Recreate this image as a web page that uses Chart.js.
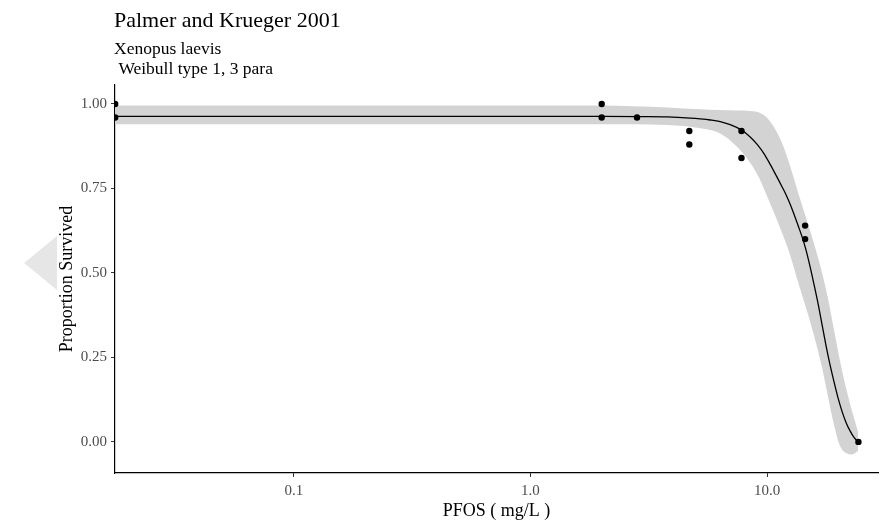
<!DOCTYPE html>
<html>
<head>
<meta charset="utf-8">
<script src="https://cdn.jsdelivr.net/npm/chart.js@4/dist/chart.umd.min.js"></script>
<style>
  html, body { margin: 0; padding: 0; background: #ffffff; }
  #wrap { width: 885px; height: 520px; position: relative; }
</style>
</head>
<body>
<div id="wrap"><canvas id="c" width="885" height="520"></canvas></div>
<script>
// Observed survival per PFOS concentration (control plotted at the left limit)
const obsConc = [0.0176, 0.0176, 2.0, 2.0, 2.82, 4.69, 4.69, 7.79, 7.79, 14.47, 14.47, 24.3];
const obsSurv = [1.00, 0.96, 1.00, 0.96, 0.96, 0.92, 0.88, 0.92, 0.84, 0.64, 0.60, 0.00];

// Fitted Weibull (type 1, 3 parameter) curve
const fitConc = [0.01757, 1.974, 2.911, 3.785, 4.733, 5.215, 5.747, 6.335, 6.981, 7.767, 8.479, 9.075, 9.712,
                 10.30, 10.91, 11.57, 12.03, 12.50, 13.00, 13.51, 14.05, 14.61, 15.19, 15.79, 16.42, 17.07,
                 17.74, 18.44, 19.17, 19.93, 20.72, 21.54, 22.40, 23.28, 24.21];
const fitSurv = [0.9630, 0.9630, 0.9624, 0.9615, 0.9580, 0.9556, 0.9524, 0.9476, 0.9385, 0.9231, 0.9024, 0.8802, 0.8521,
                 0.8210, 0.7885, 0.7544, 0.7308, 0.7041, 0.6731, 0.6405, 0.6065, 0.5666, 0.5178, 0.4645, 0.4083, 0.3462,
                 0.2840, 0.2278, 0.1775, 0.1302, 0.0902, 0.0577, 0.0325, 0.0133, 0.0];

// Confidence band around the fit
const bandConc  = [0.01757, 1.974, 3.785, 5.215, 6.335, 7.399, 8.315, 9.162, 9.903, 10.70, 11.57,
                   12.50, 13.51, 14.61, 15.79, 17.07, 18.09, 19.17, 20.32, 21.54, 22.84, 24.21];
const bandUpper = [0.9956, 0.9956, 0.9896, 0.9843, 0.9820, 0.9805, 0.9799, 0.9751, 0.9615, 0.9311, 0.8837,
                   0.8166, 0.7382, 0.6627, 0.5858, 0.5000, 0.4231, 0.3314, 0.2396, 0.1598, 0.0917, 0.0296];
const bandLower = [0.9399, 0.9399, 0.9379, 0.9281, 0.9127, 0.8757, 0.8343, 0.7870, 0.7337, 0.6775, 0.6183,
                   0.5533, 0.4734, 0.3964, 0.3136, 0.2189, 0.1331, 0.0503, -0.0118, -0.0325, -0.0370, -0.0266];

// Axis ticks
const xTicks = [0.1, 1, 10];
const xTickLabels = ['0.1', '1.0', '10.0'];
const yTicks = [0, 0.25, 0.5, 0.75, 1.0];

const titleText = 'Palmer and Krueger 2001';
const subtitleLines = ['Xenopus laevis', ' Weibull type 1, 3 para'];

const serif = '"Liberation Serif", "DejaVu Serif", serif';

const pairs = (xs, ys) => xs.map((x, i) => ({ x: x, y: ys[i] }));

const headerPlugin = {
  id: 'header',
  beforeDraw(chart) {
    const ctx = chart.ctx;
    ctx.save();
    // light marker shape at the left margin
    ctx.fillStyle = '#e6e6e6';
    ctx.beginPath();
    ctx.moveTo(24, 263);
    ctx.lineTo(57, 236);
    ctx.lineTo(57, 290);
    ctx.closePath();
    ctx.fill();
    ctx.restore();
  },
  afterDraw(chart) {
    const ctx = chart.ctx;
    ctx.save();
    ctx.fillStyle = '#000000';
    ctx.textAlign = 'left';
    ctx.textBaseline = 'alphabetic';
    ctx.font = '22px ' + serif;
    ctx.fillText(titleText, 114, 27);
    ctx.font = '17.5px ' + serif;
    ctx.fillText(subtitleLines[0], 114, 54);
    ctx.fillText(subtitleLines[1], 114, 74);
    ctx.restore();
  }
};

new Chart(document.getElementById('c'), {
  type: 'scatter',
  data: {
    datasets: [
      {
        type: 'line',
        data: pairs(bandConc, bandLower),
        borderWidth: 0,
        borderColor: 'rgba(0,0,0,0)',
        pointRadius: 0,
        fill: false,
        cubicInterpolationMode: 'monotone',
        order: 3
      },
      {
        type: 'line',
        data: pairs(bandConc, bandUpper),
        borderWidth: 0,
        borderColor: 'rgba(0,0,0,0)',
        backgroundColor: '#d3d3d3',
        pointRadius: 0,
        fill: '-1',
        cubicInterpolationMode: 'monotone',
        order: 2
      },
      {
        type: 'line',
        data: pairs(fitConc, fitSurv),
        borderColor: '#000000',
        borderWidth: 1.3,
        pointRadius: 0,
        fill: false,
        cubicInterpolationMode: 'monotone',
        order: 1
      },
      {
        type: 'scatter',
        data: pairs(obsConc, obsSurv),
        backgroundColor: '#000000',
        borderColor: '#000000',
        pointRadius: 3.2,
        borderWidth: 0,
        order: 0
      }
    ]
  },
  options: {
    responsive: false,
    animation: false,
    events: [],
    layout: { padding: { left: 0, right: 7, top: 85, bottom: 0 } },
    plugins: {
      legend: { display: false },
      tooltip: { enabled: false },
      title: { display: false }
    },
    scales: {
      x: {
        type: 'logarithmic',
        min: 0.01757,
        max: 29.4,
        afterBuildTicks(scale) { scale.ticks = xTicks.map(v => ({ value: v })); },
        afterFit(scale) { scale.height = 47; },
        ticks: {
          autoSkip: false,
          maxRotation: 0,
          color: '#4d4d4d',
          font: { family: serif, size: 15 },
          padding: 5,
          callback: (v) => { const i = xTicks.indexOf(v); return i >= 0 ? xTickLabels[i] : ''; }
        },
        grid: { drawOnChartArea: false, drawTicks: true, tickLength: 4, color: '#333333' },
        border: { display: true, color: '#000000', width: 1.2 },
        title: {
          display: true,
          text: 'PFOS ( mg/L )',
          color: '#000000',
          font: { family: serif, size: 18, lineHeight: 1 },
          padding: { top: 0, bottom: 0 }
        }
      },
      y: {
        type: 'linear',
        min: -0.092,
        max: 1.056,
        afterBuildTicks(scale) { scale.ticks = yTicks.map(v => ({ value: v })); },
        afterFit(scale) { scale.width = 115; },
        ticks: {
          autoSkip: false,
          color: '#4d4d4d',
          font: { family: serif, size: 15 },
          padding: 4,
          callback: (v) => Number(v).toFixed(2)
        },
        grid: { drawOnChartArea: false, drawTicks: true, tickLength: 4, color: '#333333' },
        border: { display: true, color: '#000000', width: 1.2 },
        title: {
          display: true,
          text: 'Proportion Survived',
          color: '#000000',
          font: { family: serif, size: 18, lineHeight: 1 },
          padding: { top: 58, bottom: 0 }
        }
      }
    }
  },
  plugins: [headerPlugin]
});
</script>
</body>
</html>
